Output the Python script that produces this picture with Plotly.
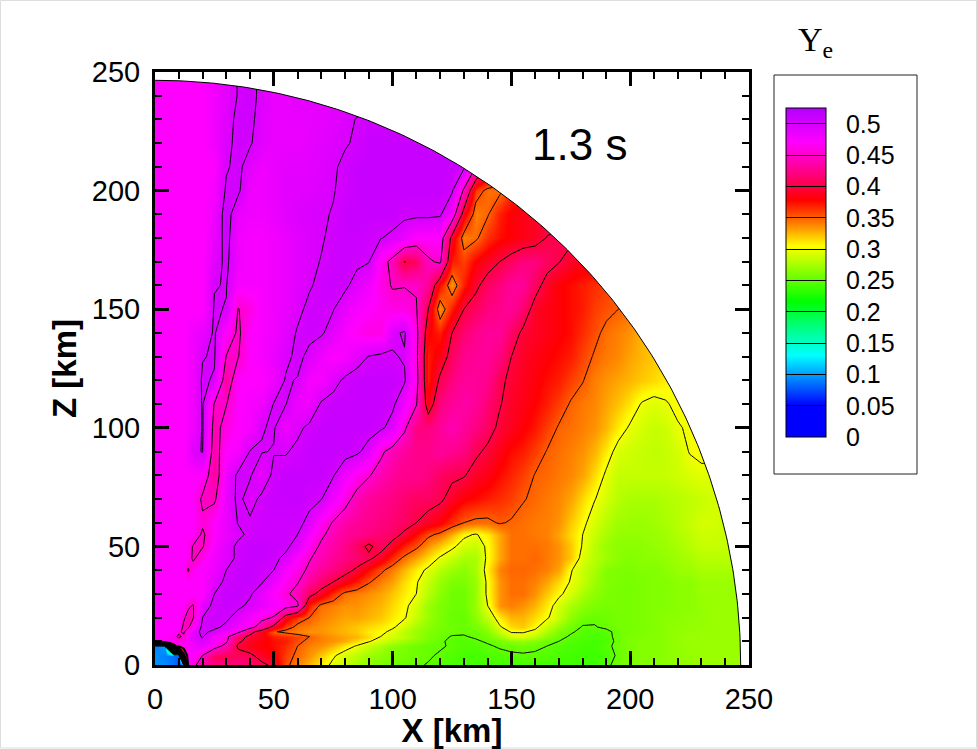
import numpy as np
import plotly.graph_objects as go

# grid of the Ye map (ye in thousandths)
x_km = [0, 4, 8, 10, 12, 14, 16] + list(range(20, 255, 5))
z_km = [0, 4, 8, 10, 12, 14, 16] + list(range(20, 65, 5)) + list(range(70, 260, 10))

ye_rows = [
    [95,95,85,70,90,470,460, 430,420,420,420,415,405,395, 355,340,325,310,295,285,275,265,260,255, 253,252,249,245,243,242,241,241,241,241, 241,241,241,240,240,240,240,247,255,260, 262,263,265,267,268,270,270,270,270,270],
    [95,90,85,80,380,470,470, 450,410,405,410,405,390,380, 360,345,335,320,303,290,280,270,265,260, 258,255,252,248,245,240,240,243,245,247, 248,247,245,242,240,238,238,242,253,260, 262,263,265,267,268,270,270,270,270,270],
    [90,100,440,470,470,470,480, 485,465,440,395,385,380,375, 365,350,340,335,325,310,298,285,275,265, 260,255,252,252,248,245,245,248,252,255, 256,254,250,245,242,240,240,246,255,260, 262,262,265,268,270,270,270,270,270,270],
    [460,465,470,460,460,470,485, 495,475,455,405,390,380,375, 370,355,345,340,335,328,315,302,290,280, 272,265,258,252,247,245,248,252,258,265, 268,262,255,250,245,242,240,242,255,260, 262,263,265,268,270,270,270,270,270,270],
    [470,470,460,445,455,480,490, 502,475,460,410,395,385,370, 365,358,350,340,335,330,325,315,300,290, 283,270,260,255,249,249,252,258,270,290, 292,280,265,255,248,244,242,245,255,260, 262,263,265,268,270,270,270,270,270,270],
    [470,470,470,455,445,470,490, 505,495,480,460,410,385,352, 345,340,335,335,330,325,320,310,305,295, 280,270,262,257,254,252,254,262,285,302, 302,295,275,260,252,246,244,246,255,258, 260,262,265,268,268,270,270,270,270,270],
    [470,470,470,470,445,445,470, 505,505,495,480,465,430,390, 360,345,340,335,330,325,320,315,310,303, 290,275,265,258,255,253,258,270,297,315, 320,305,285,268,256,249,249,253,257,258, 260,262,265,267,268,268,270,270,270,270],
    [470,470,470,470,455,440,447, 500,505,505,490,475,460,447, 385,360,350,340,335,330,330,325,320,310, 302,285,270,260,253,252,265,285,310,325, 325,315,303,285,265,255,253,255,258,258, 260,262,265,265,268,268,270,270,270,270],
    [470,470,470,470,470,455,448, 490,505,510,505,495,485,475, 465,455,370,345,340,335,335,330,325,315, 305,290,270,260,255,255,270,300,335,340, 335,325,310,290,275,265,260,258,258,258, 260,262,262,265,265,268,270,270,270,270],
    [470,470,470,470,470,470,470, 470,500,510,510,503,485,470, 455,440,410,390,365,345,340,335,330,320, 310,300,280,265,255,255,270,305,335,345, 345,335,320,305,290,275,265,260,258,258, 260,262,262,265,265,270,270,270,270,270],
    [470,470,470,470,470,470,470, 470,490,505,510,510,502,480, 465,452,430,415,400,385,370,352,340,330, 315,302,285,270,260,260,270,305,335,345, 345,340,330,315,298,285,270,262,260,258, 260,262,262,265,265,270,270,270,270,270],
    [470,470,470,470,470,447,465, 475,480,500,510,510,505,500, 475,460,445,430,420,410,395,375,355,340, 325,310,295,280,270,265,275,310,340,348, 348,345,340,330,302,285,275,262,260,260, 262,262,265,270,270,275,275,275,275,275],
    [470,470,470,470,470,465,445, 465,480,490,505,510,510,505, 495,470,452,440,430,420,415,405,390,365, 345,330,315,297,285,275,275,305,330,345, 345,348,342,335,320,292,280,272,265,262, 265,265,268,272,275,280,280,280,280,280],
    [470,470,470,470,470,465,448, 448,475,490,505,510,510,510, 505,490,465,445,435,425,410,395,410,390, 370,355,335,320,305,290,285,305,330,345, 345,345,342,335,320,298,280,270,265,265, 265,268,270,275,280,285,285,285,285,285],
    [470,470,470,470,470,470,470, 445,470,485,495,505,505,505, 505,500,475,455,440,430,425,420,415,410, 395,375,355,345,325,305,298,310,330,345, 345,342,340,330,315,300,285,275,268,268, 268,270,272,278,282,287,287,285,285,285],
    [470,470,470,470,470,470,470, 455,470,485,501,503,505,505, 505,505,495,465,448,435,430,425,420,415, 410,400,390,380,365,350,345,345,352,348, 345,342,340,335,320,305,290,280,272,270, 270,272,275,280,285,290,290,285,285,285],
    [470,470,470,470,470,470,470, 445,445,485,505,492,505,510, 510,510,505,501,480,460,440,430,425,420, 415,410,410,405,390,380,375,370,365,360, 351,347,342,338,330,315,301,290,280,275, 275,275,278,280,283,285,290,290,290,290],
    [470,470,470,470,470,470,470, 470,430,480,505,502,485,505, 510,510,510,510,502,480,465,452,440,430, 425,425,420,410,405,402,390,385,375,368, 360,349,347,342,338,330,315,296,285,285, 285,285,285,288,292,295,295,295,295,295],
    [470,470,470,470,470,480,495, 501,435,470,475,501,501,499, 498,505,510,510,510,510,505,490,455,440, 430,425,425,430,425,420,405,395,385,375, 370,360,349,345,340,335,325,310,292,288, 285,283,285,290,301,305,305,305,305,305],
    [470,470,470,470,470,475,480, 502,440,460,470,475,499,502, 480,495,505,510,510,510,510,510,505,490, 455,420,420,430,440,430,420,410,395,388, 380,372,360,348,345,340,335,325,310,297, 290,285,288,298,303,305,305,305,305,305],
    [470,470,470,470,470,475,480, 502,448,449,470,475,480,501, 501,480,480,503,510,510,510,510,510,505, 480,452,385,420,430,435,430,415,402,390, 385,378,370,360,348,342,338,330,322,312, 298,293,298,305,305,305,305,305,305,305],
    [470,470,470,470,470,475,480, 503,498,430,470,470,470,480, 502,499,475,475,490,505,510,510,510,510, 503,462,370,405,420,430,430,425,405,395, 388,382,375,370,360,351,340,335,330,325, 320,315,310,305,303,303,303,303,303,303],
    [470,470,470,470,470,475,480, 499,502,449,449,470,475,485, 495,505,495,480,470,475,490,501,505,502, 498,458,370,385,410,425,430,430,420,400, 390,385,380,375,370,358,348,342,338,330, 325,320,315,312,310,310,310,310,310,310],
    [470,470,470,470,470,475,480, 485,503,470,445,470,475,480, 490,502,505,503,490,475,465,460,460,495, 503,460,380,370,400,415,425,430,430,412, 395,390,385,380,375,365,355,345,340,335, 325,318,318,318,318,318,318,318,318,318],
    [470,470,470,470,470,470,470, 470,502,499,449,460,475,480, 485,495,505,505,501,485,475,470,465,460, 460,452,400,335,370,400,410,420,425,430, 415,390,385,380,375,370,360,355,350,345, 340,340,340,340,340,340,340,340,340,340],
    [470,470,470,470,470,470,470, 470,499,501,475,475,475,480, 485,490,498,505,508,505,490,480,460,448, 449,448,430,375,335,370,395,410,420,430, 430,410,390,380,375,370,365,360,355,355, 355,355,355,355,355,355,355,355,355,355],
    [470,470,470,470,470,470,470, 470,490,505,480,475,475,480, 485,490,495,501,505,508,505,501,465,440, 399,410,445,455,370,360,380,390,400,410, 420,420,410,401,390,385,385,385,385,385, 385,385,385,385,385,385,385,385,385,385],
    [470,470,470,470,470,470,470, 470,485,508,480,475,475,480, 485,490,495,498,505,508,508,505,501,495, 485,470,470,470,390,340,346,365,375,380, 385,390,401,405,405,405,405,405,405,405, 405,405,405,405,405,405,405,405,405,405],
    [470,470,470,470,470,470,470, 470,480,510,485,480,480,485, 490,495,497,498,501,510,510,510,510,510, 505,505,505,503,475,385,340,348,370,380, 385,390,390,390,390,390,390,390,390,390, 390,390,390,390,390,390,390,390,390,390],
    [470,470,470,470,470,470,470, 470,475,503,504,480,480,485, 490,490,493,495,499,505,510,510,510,510, 510,510,510,510,503,445,360,345,345,365, 370,370,370,370,370,370,370,370,370,370, 370,370,370,370,370,370,370,370,370,370],
    [470,470,470,470,470,470,470, 470,470,498,505,490,480,485, 490,490,490,492,497,505,510,510,510,510, 510,510,510,510,510,505,450,401,370,370, 370,370,370,370,370,370,370,370,370,370, 370,370,370,370,370,370,370,370,370,370],
    [470,470,470,470,470,470,470, 470,480,495,505,502,490,485, 485,485,488,490,494,498,503,510,510,510, 510,510,510,510,510,510,510,510,510,510, 510,510,510,510,510,510,510,510,510,510, 510,510,510,510,510,510,510,510,510,510],
    [470,470,470,470,470,470,470, 470,480,492,505,506,490,485, 485,485,485,488,490,495,501,505,505,505, 505,505,505,505,505,505,505,505,505,505, 505,505,505,505,505,505,505,505,505,505, 505,505,505,505,505,505,505,505,505,505],
    [470,470,470,470,470,470,470, 470,478,490,501,506,495,485, 485,490,490,490,490,490,490,490,490,490, 490,490,490,490,490,490,490,490,490,490, 490,490,490,490,490,490,490,490,490,490, 490,490,490,490,490,490,490,490,490,490],
    [470,470,470,470,470,470,470, 470,478,490,501,506,495,485, 485,490,490,490,490,490,490,490,490,490, 490,490,490,490,490,490,490,490,490,490, 490,490,490,490,490,490,490,490,490,490, 490,490,490,490,490,490,490,490,490,490],
]

level_ticks = [0, 0.05, 0.1, 0.15, 0.2, 0.25, 0.3, 0.35, 0.4, 0.45, 0.5]
level_labels = ["0", "0.05", "0.1", "0.15", "0.2", "0.25", "0.3", "0.35", "0.4", "0.45", "0.5"]
axis_ticks = [0, 50, 100, 150, 200, 250]
TIME_LABEL = "1.3 s"

YE_MAX = 0.525
RIM_RADIUS = 246.5
PLOT_L, PLOT_T, PLOT_W, PLOT_H = 155, 72, 594, 593
FIG_W, FIG_H = 977, 749

rainbow = [
    (0.0, (0, 0, 255)), (0.05, (0, 0, 255)), (0.13, (0, 255, 255)), (0.175, (0, 255, 128)),
    (0.217, (0, 255, 0)), (0.305, (255, 255, 0)), (0.34, (255, 128, 0)), (0.378, (255, 0, 0)),
    (0.42, (255, 0, 128)), (0.47, (255, 0, 255)), (0.525, (180, 0, 255)),
]
colorscale = [[v / YE_MAX, "rgb(%d,%d,%d)" % c] for v, c in rainbow]

ye = np.array(ye_rows) / 1000.0
assert ye.shape == (len(z_km), len(x_km))


def px_x(px):
    return (px - PLOT_L) / PLOT_W


def px_y(py):
    return (PLOT_T + PLOT_H - py) / PLOT_H


fig = go.Figure()
fig.add_trace(go.Heatmap(
    x=x_km, y=z_km, z=ye, zmin=0, zmax=YE_MAX, zsmooth="best",
    colorscale=colorscale, hoverinfo="skip",
    colorbar=dict(
        x=px_x(786), xanchor="left", xpad=0, y=px_y(108.3), yanchor="top", ypad=0,
        lenmode="pixels", len=329, thicknessmode="pixels", thickness=40,
        outlinewidth=1, outlinecolor="black",
        tickvals=level_ticks, ticktext=["\u00a0\u00a0" + s for s in level_labels],
        ticks="inside", ticklen=40, tickwidth=1, tickcolor="black",
        tickfont=dict(family="Liberation Sans", size=25, color="black"),
    ),
))
fig.add_trace(go.Contour(
    x=x_km, y=z_km, z=ye, showscale=False, hoverinfo="skip",
    contours=dict(coloring="none", start=0.05, end=0.5, size=0.05),
    line=dict(color="black", width=1, smoothing=0),
))
# the levels bunch up into a thick black ring round the core
fig.add_trace(go.Contour(
    x=x_km[:7], y=z_km[:4], z=ye[:4, :7], showscale=False, hoverinfo="skip",
    contours=dict(coloring="none", start=0.15, end=0.45, size=0.05),
    line=dict(color="black", width=2, smoothing=0),
))

# white outside the rim, which is only there to cut the map to a quarter disc
theta = np.linspace(0, np.pi / 2, 200)
rim_x = RIM_RADIUS * np.cos(theta)
rim_z = RIM_RADIUS * np.sin(theta)
fig.add_trace(go.Scatter(
    x=list(rim_x) + [0, 260, 260], y=list(rim_z) + [260, 260, 0],
    mode="lines", fill="toself", fillcolor="white", line=dict(width=0),
    hoverinfo="skip", showlegend=False,
))
fig.add_trace(go.Scatter(
    x=rim_x, y=rim_z, mode="lines", line=dict(color="black", width=1),
    hoverinfo="skip", showlegend=False,
))

axis_style = dict(
    range=[0, 250], tickvals=axis_ticks, ticks="inside", ticklen=14, tickwidth=3,
    tickcolor="black", showline=True, linewidth=3, linecolor="black", mirror="ticks",
    showgrid=False, zeroline=False, layer="above traces", ticklabelstandoff=6,
    automargin=False,
    tickfont=dict(family="Liberation Sans", size=29, color="black"),
    minor=dict(dtick=10, ticks="inside", ticklen=7, tickwidth=1.5, tickcolor="black", showgrid=False),
)
title_font = dict(family="Liberation Sans", size=33, color="black")
fig.update_xaxes(axis_style, title=dict(text="<b>X [km]</b>", font=title_font, standoff=8))
fig.update_yaxes(axis_style, title=dict(text="<b>Z [km]</b>", font=title_font, standoff=6))

fig.update_layout(
    width=FIG_W, height=FIG_H, autosize=False,
    margin=dict(l=PLOT_L, r=FIG_W - PLOT_L - PLOT_W, t=PLOT_T, b=FIG_H - PLOT_T - PLOT_H, pad=0),
    paper_bgcolor="white", plot_bgcolor="white", showlegend=False,
    shapes=[
        dict(type="rect", xref="paper", yref="paper", x0=px_x(774), x1=px_x(917),
             y0=px_y(474), y1=px_y(75), line=dict(color="#222222", width=1), layer="below"),
        dict(type="rect", xref="paper", yref="paper", x0=px_x(0.5), x1=px_x(976.5),
             y0=px_y(748), y1=px_y(0.5), line=dict(color="#dddddd", width=1), layer="below"),
    ],
    annotations=[
        dict(text=TIME_LABEL, xref="paper", yref="paper", x=px_x(579), y=px_y(145),
             xanchor="center", yanchor="middle", showarrow=False,
             font=dict(family="Liberation Sans", size=44, color="black")),
        dict(text="Y<sub>e</sub>", xref="paper", yref="paper", x=px_x(815), y=px_y(42),
             xanchor="center", yanchor="middle", showarrow=False,
             font=dict(family="Liberation Serif", size=34, color="black")),
    ],
)

# the page's default body margin would push the figure off its 977x749 frame
fig.write_html("out.html", config={"displayModeBar": False},
               post_script="document.body.style.margin='0';")
